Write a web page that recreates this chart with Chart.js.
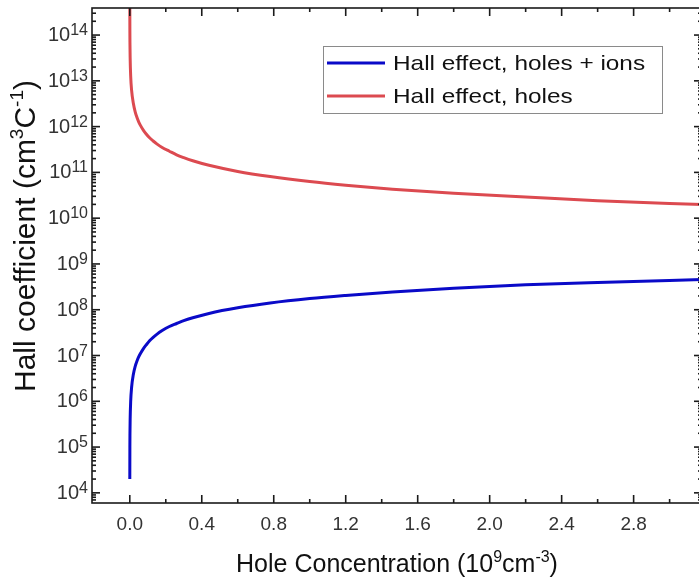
<!DOCTYPE html>
<html>
<head>
<meta charset="utf-8">
<script src="https://cdn.jsdelivr.net/npm/chart.js@4.4.1/dist/chart.umd.min.js"></script>
<style>
    html, body { margin: 0; padding: 0; background: #fff; overflow: hidden; }
    canvas { display: block; }
</style>
</head>
<body>
<canvas id="hallChart" width="705" height="581"></canvas>
<script>
const $ = (id) => document.getElementById(id);

// Hole concentration (10^9 cm^-3)
const holeConc = [0.0001, 0.0005, 0.001, 0.002, 0.005, 0.01, 0.02, 0.03, 0.04, 0.05, 0.06, 0.075, 0.09,
    0.11, 0.13, 0.15, 0.18, 0.22, 0.26, 0.3, 0.35, 0.44, 0.6, 0.78, 1.0, 1.2, 1.46, 1.8, 2.2, 2.6, 3.2];

// Hall coefficient (cm^3 C^-1)
const hallHolesIons = [2.0e4, 1.0e5, 2.0e5, 4.0e5, 1.0e6, 2.0e6, 3.9e6, 5.8e6, 7.6e6, 9.4e6, 1.12e7, 1.4e7, 1.68e7,
    2.1e7, 2.5e7, 2.9e7, 3.5e7, 4.3e7, 5.0e7, 5.8e7, 6.7e7, 8.3e7, 1.1e8, 1.4e8, 1.75e8, 2.05e8, 2.45e8, 2.95e8, 3.5e8, 3.95e8, 4.6e8];
const hallHoles = [6.3e14, 1.26e14, 6.3e13, 3.2e13, 1.26e13, 6.3e12, 3.2e12, 2.1e12, 1.58e12, 1.26e12, 1.05e12, 8.4e11, 7.0e11,
    5.7e11, 4.85e11, 4.2e11, 3.5e11, 2.9e11, 2.42e11, 2.1e11, 1.8e11, 1.43e11, 1.05e11, 8.1e10, 6.3e10, 5.25e10, 4.3e10, 3.5e10, 2.9e10, 2.4e10, 1.97e10];

const seriesLabels = ['Hall effect, holes + ions', 'Hall effect, holes'];
const seriesColors = ['#0a0ac8', '#dc4a50'];

// tick labels
const xMajorTicks = [0.0, 0.4, 0.8, 1.2, 1.6, 2.0, 2.4, 2.8];
const xMinorTicks = [0.2, 0.6, 1.0, 1.4, 1.8, 2.2, 2.6, 3.0];
const yDecades = [4, 5, 6, 7, 8, 9, 10, 11, 12, 13, 14];

// axis titles, [text, superscript?]
const xTitle = [['Hole Concentration (10'], ['9', true], ['cm'], ['-3', true], [')']];
const yTitle = [['Hall coefficient (cm'], ['3', true], ['C'], ['-1', true], [')']];

const FONT = "'Liberation Sans', Arial, sans-serif";

const toPoints = (ys) => holeConc.map((x, i) => ({ x, y: ys[i] }));

// text with superscripts, drawn on the alphabetic baseline
function drawRich(ctx, parts, x, baseline, size, supSize, raise, align) {
    const fontOf = (p) => (p[1] ? supSize : size) + 'px ' + FONT;
    let total = 0;
    parts.forEach(p => { ctx.font = fontOf(p); total += ctx.measureText(p[0]).width; });
    let cx = align === 'right' ? x - total : align === 'center' ? x - total / 2 : x;
    ctx.textAlign = 'left';
    ctx.textBaseline = 'alphabetic';
    parts.forEach(p => {
        ctx.font = fontOf(p);
        ctx.fillText(p[0], cx, p[1] ? baseline - raise : baseline);
        cx += ctx.measureText(p[0]).width;
    });
}

// frame, inward ticks on all four sides, y labels and axis titles
const frameTicks = {
    id: 'frameTicks',
    afterDatasetsDraw(chart) {
        const { ctx, chartArea: a, scales: { x, y } } = chart;
        ctx.save();
        ctx.strokeStyle = '#1a1a1a';
        ctx.lineWidth = 1.6;
        const line = (x1, y1, x2, y2) => {
            ctx.beginPath();
            ctx.moveTo(x1, y1);
            ctx.lineTo(x2, y2);
            ctx.stroke();
        };
        x.ticks.forEach(t => {
            const px = x.getPixelForValue(t.value);
            if (px < a.left + 1 || px > a.right - 1) return;
            const len = t.isMajor ? 8 : 4;
            line(px, a.bottom, px, a.bottom - len);
            line(px, a.top, px, a.top + len);
        });
        y.ticks.forEach(t => {
            const py = y.getPixelForValue(t.value);
            if (py < a.top + 1 || py > a.bottom - 1) return;
            const len = t.isMajor ? 8 : 4;
            line(a.left, py, a.left + len, py);
            line(a.right, py, a.right - len, py);
        });
        ctx.strokeRect(a.left, a.top, a.right - a.left, a.bottom - a.top);

        // y tick labels 10^n
        ctx.fillStyle = '#333';
        yDecades.forEach(e => {
            const py = y.getPixelForValue(Math.pow(10, e));
            drawRich(ctx, [['10'], [String(e), true]], a.left - 4, py + 6, 20, 16, 6, 'right');
        });

        // axis titles
        ctx.fillStyle = '#111';
        drawRich(ctx, xTitle, (a.left + a.right) / 2, 572, 25, 16, 10, 'center');
        ctx.translate(35, 236);
        ctx.rotate(-Math.PI / 2);
        drawRich(ctx, yTitle, 0, 0, 30, 19, 12, 'center');
        ctx.restore();
    }
};

// boxed legend inside the plot
const boxLegend = {
    id: 'boxLegend',
    afterDraw(chart) {
        const { ctx } = chart;
        const left = 323, top = 46, w = 339, h = 67;
        ctx.save();
        ctx.fillStyle = '#fff';
        ctx.fillRect(left, top, w, h);
        ctx.strokeStyle = '#8a8a8a';
        ctx.lineWidth = 1;
        ctx.strokeRect(left + 0.5, top + 0.5, w, h);
        ctx.font = '21px ' + FONT;
        ctx.textBaseline = 'middle';
        chart.data.datasets.forEach((ds, i) => {
            const cy = top + 17 + i * 33;
            ctx.strokeStyle = ds.borderColor;
            ctx.lineWidth = 3;
            ctx.beginPath();
            ctx.moveTo(left + 4, cy);
            ctx.lineTo(left + 62, cy);
            ctx.stroke();
            ctx.fillStyle = '#111';
            // the source picture is a little wider than tall, stretch the text to match
            ctx.save();
            ctx.translate(left + 70, cy + 1);
            ctx.scale(1.16, 1);
            ctx.fillText(ds.label, 0, 0);
            ctx.restore();
        });
        ctx.restore();
    }
};

const hallChart = new Chart($('hallChart'), {
    type: 'line',
    data: {
        datasets: [
            {
                label: seriesLabels[0],
                data: toPoints(hallHolesIons),
                borderColor: seriesColors[0],
                borderWidth: 3,
                pointRadius: 0,
                cubicInterpolationMode: 'monotone'
            },
            {
                label: seriesLabels[1],
                data: toPoints(hallHoles),
                borderColor: seriesColors[1],
                borderWidth: 3,
                pointRadius: 0,
                cubicInterpolationMode: 'monotone'
            }
        ]
    },
    options: {
        responsive: false,
        animation: false,
        devicePixelRatio: 1,
        layout: { padding: { top: 8, right: 3, left: 0, bottom: 0 } },
        plugins: {
            legend: { display: false },
            tooltip: { enabled: false }
        },
        scales: {
            x: {
                type: 'linear',
                min: -0.21,
                max: 3.18,
                grid: { display: false },
                border: { display: false },
                afterBuildTicks: (scale) => {
                    const major = xMajorTicks.map(v => ({ value: v, isMajor: true }));
                    const minor = xMinorTicks.map(v => ({ value: v, isMajor: false }));
                    scale.ticks = major.concat(minor).sort((a, b) => a.value - b.value);
                },
                afterFit: (scale) => { scale.height = 78; },
                ticks: {
                    autoSkip: false,
                    maxRotation: 0,
                    padding: 2,
                    color: '#333',
                    font: { family: FONT, size: 19 },
                    callback: (value) => {
                        const hit = xMajorTicks.find(v => Math.abs(v - value) < 1e-6);
                        return hit === undefined ? '' : hit.toFixed(1);
                    }
                }
            },
            y: {
                type: 'logarithmic',
                min: 6000,
                max: 3.9e14,
                grid: { display: false },
                border: { display: false },
                afterBuildTicks: (scale) => {
                    const ticks = [];
                    for (let e = yDecades[0] - 1; e <= yDecades[yDecades.length - 1]; e++) {
                        for (let m = 1; m < 10; m++) {
                            const v = m * Math.pow(10, e);
                            if (v >= scale.min && v <= scale.max) ticks.push({ value: v, isMajor: m === 1 });
                        }
                    }
                    scale.ticks = ticks;
                },
                afterFit: (scale) => { scale.width = 92; },
                ticks: { display: false, autoSkip: false }
            }
        }
    },
    plugins: [frameTicks, boxLegend]
});
</script>
</body>
</html>
